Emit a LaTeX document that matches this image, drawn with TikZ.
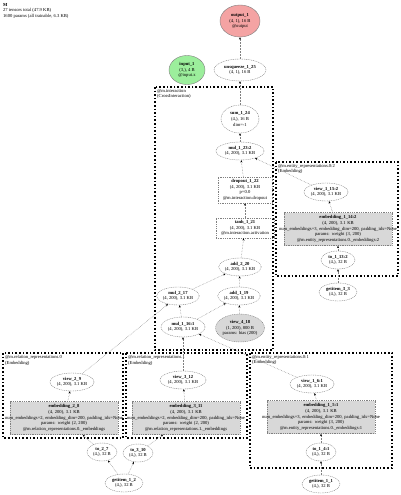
\documentclass[tikz,border=0pt]{standalone}
\usepackage{fontspec}
\setmainfont{Liberation Serif}
\usepackage{tikz}
\usetikzlibrary{arrows.meta,shapes.geometric}
\definecolor{OutRed}{HTML}{F4A3A3}
\definecolor{InGreen}{HTML}{9CEE9C}
\definecolor{ParamGray}{HTML}{D8D8D8}
\definecolor{EdgeGray}{HTML}{808080}
\newcommand{\gfont}{\fontsize{4.6}{5.7}\selectfont}
\newcommand{\widerow}[1]{\makebox[\linewidth][c]{#1}}

\begin{document}
\begin{tikzpicture}[x=1pt, y=-1pt, >=Stealth,
    tensor/.style={ellipse, draw=EdgeGray, dash pattern=on 1pt off 0.8pt, line width=0.4pt, inner sep=0pt, align=center, font=\gfont},
    opbox/.style={rectangle, draw=EdgeGray, dash pattern=on 1pt off 0.8pt, line width=0.4pt, inner sep=1pt, align=center, font=\gfont},
    embbox/.style={rectangle, draw=EdgeGray, dash pattern=on 1pt off 0.8pt, line width=0.4pt, fill=ParamGray, inner sep=1pt, text width=106pt, minimum height=33pt, align=center, font=\gfont},
    flow/.style={-{Stealth[length=2.4pt,width=2pt,black]}, EdgeGray, densely dotted, line width=0.5pt},
    module/.style={draw=black, line width=1.6pt, dotted},
    modlabel/.style={anchor=north west, align=left, inner sep=1pt, font=\gfont}]
    \useasboundingbox (0,0) rectangle (400,495);

    % Summary
    \node[modlabel] (summary) at (2,2) {\textbf{M}\\27 tensors total (47.9 KB)\\1600 params (all trainable, 6.3 KB)};

    % Output and input
    \node[tensor, solid, fill=OutRed, minimum width=40pt, minimum height=32pt] (out) at (240,21) {\textbf{output\_1}\\(4, 1), 16 B\\@output};
    \node[tensor, solid, fill=InGreen, minimum width=36pt, minimum height=29pt] (inp) at (187,70) {\textbf{input\_1}\\(3,), 4 B\\@input.x};
    \node[tensor, minimum width=52pt, minimum height=22pt] (unsq) at (240,70) {\textbf{unsqueeze\_1\_25}\\(4, 1), 16 B};

    % Interaction module
    \draw[module] (155,87) rectangle (273,350);
    \node[modlabel] (interlbl) at (156,88) {@m.interaction\\(CrossInteraction)};
    \node[tensor, minimum width=38pt, minimum height=28pt] (sumd) at (240,119) {\textbf{sum\_1\_24}\\(4,), 16 B\\dim=-1};
    \node[tensor, minimum width=48pt, minimum height=18pt] (mulT) at (240,151) {\textbf{mul\_1\_23:2}\\(4, 200), 3.1 KB};
    \node[opbox, minimum width=54pt, minimum height=26pt] (drop) at (245,190) {\textbf{dropout\_1\_22}\\(4, 200), 3.1 KB\\p=0.0\\@m.interaction.dropout};
    \node[opbox, minimum width=58pt, minimum height=20pt] (tanhN) at (245,228) {\textbf{tanh\_1\_21}\\(4, 200), 3.1 KB\\@m.interaction.activation};
    \node[tensor, minimum width=42pt, minimum height=18pt] (addB) at (240,267) {\textbf{add\_2\_20}\\(4, 200), 3.1 KB};
    \node[tensor, minimum width=42pt, minimum height=18pt] (mulR) at (178,296) {\textbf{mul\_2\_17}\\(4, 200), 3.1 KB};
    \node[tensor, minimum width=42pt, minimum height=18pt] (addA) at (239,296) {\textbf{add\_1\_19}\\(4, 200), 3.1 KB};
    \node[tensor, minimum width=44pt, minimum height=20pt] (mulH) at (183,327) {\textbf{mul\_1\_16:1}\\(4, 200), 3.1 KB};
    \node[tensor, fill=ParamGray, minimum width=48pt, minimum height=28pt] (bias) at (240,328) {\textbf{view\_4\_18}\\(1, 200), 800 B\\params: bias (200)};

    % Tail entity module
    \draw[module] (276,162) rectangle (398,276);
    \node[modlabel] (taillbl) at (277,163) {@m.entity\_representations.0:2\\(Embedding)};
    \node[tensor, minimum width=44pt, minimum height=18pt] (viewT) at (326,192) {\textbf{view\_1\_15:2}\\(4, 200), 3.1 KB};
    \node[embbox] (embT) at (338,229) {\textbf{embedding\_1\_14:2}\\(4, 200), 3.1 KB\\\widerow{num\_embeddings=3, embedding\_dim=200, padding\_idx=None}\\params: weight (3, 200)\\@m.entity\_representations.0.\_embeddings:2};
    \node[tensor, minimum width=34pt, minimum height=18pt] (toT) at (338,260) {\textbf{to\_1\_13:2}\\(4,), 32 B};
    \node[tensor, minimum width=38pt, minimum height=18pt] (getT) at (338,292) {\textbf{getitem\_3\_3}\\(4,), 32 B};

    % Relation module 0
    \draw[module] (3,353) rectangle (123,438);
    \node[modlabel] (rel0lbl) at (4,354) {@m.relation\_representations.0\\(Embedding)};
    \node[tensor, minimum width=44pt, minimum height=18pt] (viewR) at (72,382) {\textbf{view\_2\_9}\\(4, 200), 3.1 KB};
    \node[embbox] (embR) at (64,418) {\textbf{embedding\_2\_8}\\(4, 200), 3.1 KB\\\widerow{num\_embeddings=2, embedding\_dim=200, padding\_idx=None}\\params: weight (2, 200)\\@m.relation\_representations.0.\_embeddings};
    \node[tensor, minimum width=30pt, minimum height=18pt] (toR) at (102,452) {\textbf{to\_2\_7}\\(4,), 32 B};
    \node[tensor, minimum width=38pt, minimum height=18pt] (getR) at (124,483) {\textbf{getitem\_1\_2}\\(4,), 32 B};

    % Relation module 1
    \draw[module] (126,353) rectangle (247,438);
    \node[modlabel] (rel1lbl) at (127,354) {@m.relation\_representations.1\\(Embedding)};
    \node[tensor, minimum width=46pt, minimum height=18pt] (viewC) at (183,380) {\textbf{view\_3\_12}\\(4, 200), 3.1 KB};
    \node[embbox] (embC) at (186,418) {\textbf{embedding\_3\_11}\\(4, 200), 3.1 KB\\\widerow{num\_embeddings=2, embedding\_dim=200, padding\_idx=None}\\params: weight (2, 200)\\@m.relation\_representations.1.\_embeddings};
    \node[tensor, minimum width=30pt, minimum height=18pt] (toC) at (138,453) {\textbf{to\_3\_10}\\(4,), 32 B};

    % Head entity module
    \draw[module] (250,353) rectangle (392,468);
    \node[modlabel] (headlbl) at (251,354) {@m.entity\_representations.0:1\\(Embedding)};
    \node[tensor, minimum width=44pt, minimum height=18pt] (viewH) at (312,384) {\textbf{view\_1\_6:1}\\(4, 200), 3.1 KB};
    \node[embbox] (embH) at (321,417) {\textbf{embedding\_1\_5:1}\\(4, 200), 3.1 KB\\\widerow{num\_embeddings=3, embedding\_dim=200, padding\_idx=None}\\params: weight (3, 200)\\@m.entity\_representations.0.\_embeddings:1};
    \node[tensor, minimum width=30pt, minimum height=18pt] (toH) at (321,452) {\textbf{to\_1\_4:1}\\(4,), 32 B};
    \node[tensor, minimum width=38pt, minimum height=18pt] (getH) at (321,484) {\textbf{getitem\_1\_1}\\(4,), 32 B};

    % Edges
    \draw[flow] (unsq) -- (out);
    \draw[flow] (sumd) -- (unsq);
    \draw[flow] (mulT) -- (sumd);
    \draw[flow] (drop) -- (mulT);
    \draw[flow] (viewT) -- (mulT);
    \draw[flow] (tanhN) -- (drop);
    \draw[flow] (addB) -- (tanhN);
    \draw[flow] (mulR) -- (addB);
    \draw[flow] (addA) -- (addB);
    \draw[flow] (mulH) -- (mulR);
    \draw[flow] (mulH) -- (addA);
    \draw[flow] (bias) -- (addA);
    \draw[flow] (viewR) -- (mulR);
    \draw[flow] (viewC) -- (mulH);
    \draw[flow] (viewH) -- (mulH);
    \draw[flow] (embT) -- (viewT);
    \draw[flow] (toT) -- (embT);
    \draw[flow] (getT) -- (toT);
    \draw[flow] (embR) -- (viewR);
    \draw[flow] (toR) -- (embR);
    \draw[flow] (getR) -- (toR);
    \draw[flow] (embC) -- (viewC);
    \draw[flow] (toC) -- (embC);
    \draw[flow] (getR) -- (toC);
    \draw[flow] (embH) -- (viewH);
    \draw[flow] (toH) -- (embH);
    \draw[flow] (getH) -- (toH);
\end{tikzpicture}
\end{document}
